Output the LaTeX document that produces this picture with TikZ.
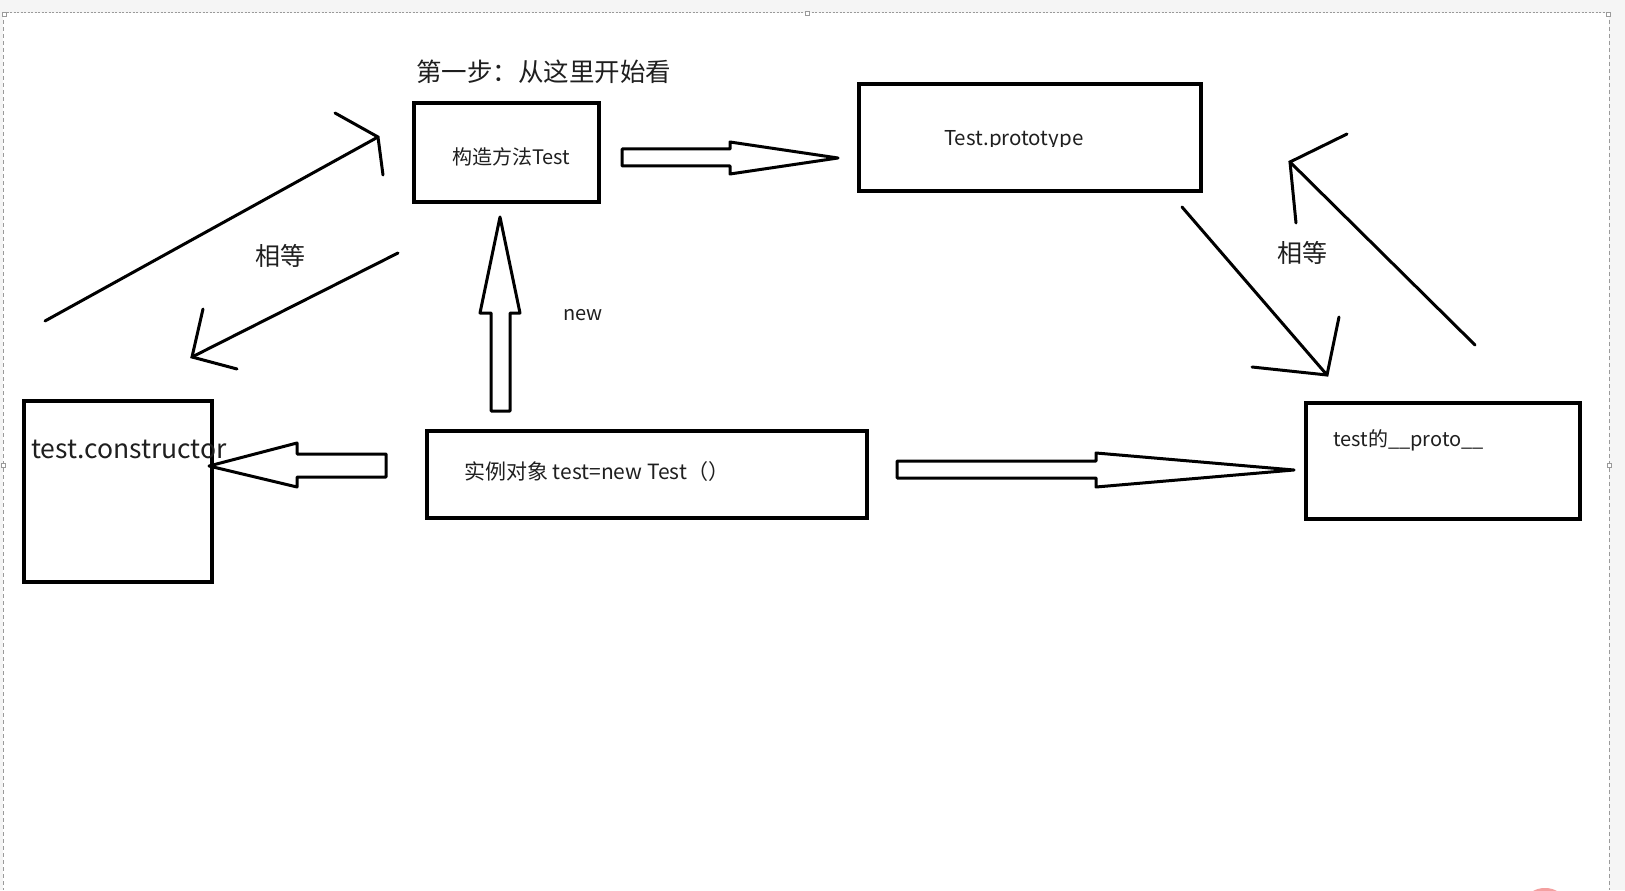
\documentclass[tikz,border=0pt]{standalone}
\usepackage{fontspec}
\setmainfont{Noto Sans CJK SC}
\definecolor{bggray}{HTML}{F5F5F5}
\definecolor{edgegray}{HTML}{9A9A9A}
\definecolor{pinkmark}{HTML}{F4A0A0}
\begin{document}
\begin{tikzpicture}[x=1pt,y=-1pt,
  box/.style={draw=black, line width=3.2pt, inner sep=0pt},
  lbl/.style={inner sep=0pt, anchor=west, text=black!88},
  blockarrow/.style={draw=black, line width=3pt, line join=round, fill=white},
  eqarrow/.style={draw=black, line width=3pt, line cap=round, line join=miter},
  handle/.style={draw=edgegray, fill=white, line width=0.6pt, minimum size=4pt, inner sep=0pt}]
% page / background
\fill[bggray] (0,0) rectangle (1625,890);
\fill[white] (3,13) rectangle (1609,890);
\draw[edgegray, line width=1pt, dash pattern=on 2pt off 1.5pt] (3,13) -- (1609,13);
\draw[edgegray, line width=0.8pt, dash pattern=on 4pt off 3pt] (3,13) -- (3,890);
\draw[edgegray, line width=0.8pt, dash pattern=on 4pt off 3pt] (1609,13) -- (1609,890);
\node[handle] (hT) at (807,13) {};
\node[handle] (hL) at (3,465) {};
\node[handle] (hR) at (1609,465) {};
\node[handle] (hTL) at (4,14) {};
\node[handle] (hTR) at (1608,14) {};
\begin{scope}
\clip (3,13) rectangle (1609,890);
\fill[pinkmark] (1545,900) ellipse (18pt and 12pt);
\end{scope}

% boxes
\node[box, minimum width=185pt, minimum height=99pt] (ctor) at (506.5,152.5) {};
\node[box, minimum width=342pt, minimum height=107pt] (proto) at (1030,137.5) {};
\node[box, minimum width=188pt, minimum height=181pt] (tc) at (118,491.5) {};
\node[box, minimum width=440pt, minimum height=87pt] (inst) at (647,474.5) {};
\node[box, minimum width=274pt, minimum height=116pt] (tp) at (1443,461) {};

% texts
\node[lbl, font=\fontsize{25.5}{30}\selectfont] (title) at (416,72) {第一步：从这里开始看};
\node[lbl, font=\fontsize{20}{24}\selectfont] (ctorT) at (452,157) {构造方法Test};
\begin{scope}
\clip (900,100) rectangle (1150,147);
\node[lbl, font=\fontsize{20.5}{24}\selectfont] (protoT) at (944,140) {Test.prototype};
\end{scope}
\node[lbl, font=\fontsize{26.5}{30}\selectfont] (tcT) at (31,449) {test.constructor};
\node[lbl, font=\fontsize{21}{25}\selectfont] (instT) at (464,472) {实例对象 test=new Test（）};
\node[lbl, font=\fontsize{20}{24}\selectfont] (tpT) at (1333,440) {test的\_\_proto\_\_};
\node[lbl, font=\fontsize{20}{24}\selectfont] (newT) at (563,315) {new};
\node[lbl, font=\fontsize{25}{28}\selectfont] (eqL) at (255,256) {相等};
\node[lbl, font=\fontsize{25}{28}\selectfont] (eqR) at (1277,253) {相等};

% block arrows
\draw[blockarrow] (622,149) -- (730,149) -- (730,142) -- (838,158) -- (730,174) -- (730,166) -- (622,166) -- cycle;
\draw[blockarrow] (491,411) -- (491,313) -- (480,313) -- (500,217) -- (520,313) -- (510,313) -- (510,411) -- cycle;
\draw[blockarrow] (386,454) -- (297,454) -- (297,443) -- (209,466) -- (297,487) -- (297,477) -- (386,477) -- cycle;
\draw[blockarrow] (897,461) -- (1096,461) -- (1096,453) -- (1294,470) -- (1096,487) -- (1096,478) -- (897,478) -- cycle;

% "equal" line arrows
\coordinate (a1s) at (45,321);   \coordinate (a1t) at (378,137);
\draw[eqarrow] (a1s) -- (a1t);
\draw[eqarrow] (335,113) -- (a1t) -- (383,175);
\coordinate (a2s) at (398,253);  \coordinate (a2t) at (192,357);
\draw[eqarrow] (a2s) -- (a2t);
\draw[eqarrow] (203,309) -- (a2t) -- (237,369);
\coordinate (a3s) at (1182,207); \coordinate (a3t) at (1327,375);
\draw[eqarrow] (a3s) -- (a3t);
\draw[eqarrow] (1339,317) -- (a3t) -- (1252,367);
\coordinate (a4s) at (1475,345); \coordinate (a4t) at (1290,162);
\draw[eqarrow] (a4s) -- (a4t);
\draw[eqarrow] (1347,134) -- (a4t) -- (1296,223);
\end{tikzpicture}
\end{document}
